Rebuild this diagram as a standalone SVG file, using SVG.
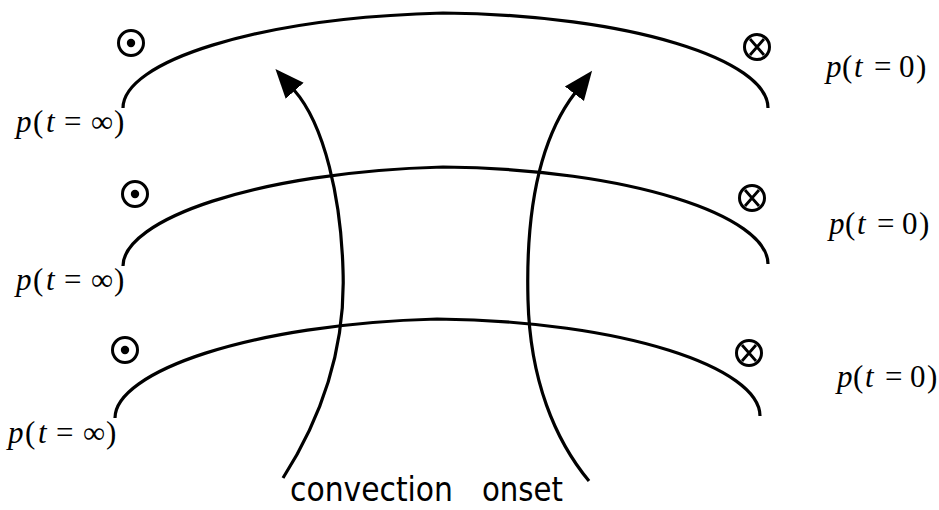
<svg xmlns="http://www.w3.org/2000/svg" width="939" height="510" viewBox="0 0 939 510">
<style>
.line{fill:none;stroke:#000;stroke-width:3.2;stroke-linecap:butt}
.arrow{fill:none;stroke:#000;stroke-width:3.2}
.ring{fill:none;stroke:#000;stroke-width:3}
.lab{font-family:"Liberation Serif","Times New Roman",serif;font-size:31px;fill:#000}
.it{font-style:italic}
.cap{font-family:"DejaVu Sans Condensed","DejaVu Sans",sans-serif;font-size:33px;fill:#000}
</style>
<defs>
<marker id="head" markerUnits="userSpaceOnUse" viewBox="0 0 30 26" markerWidth="30" markerHeight="26" refX="1" refY="13" orient="auto">
<path d="M0,1 L29,13 L0,25 Z" fill="#000"/>
</marker>
<g id="dotsym"><circle r="12.5" class="ring"/><circle r="4.2" fill="#000"/></g>
<g id="xsym"><circle r="12.5" class="ring"/><path d="M-7,-8 L7,8 M7,-8 L-7,8" stroke="#000" stroke-width="2.8"/></g>
</defs>

<g id="layer-top">
<path class="line" d="M123,108 C123,62 255,18 443,13 C631,15 768,60 768,108"/>
<use href="#dotsym" x="131" y="43"/>
<use href="#xsym" x="757" y="47"/>
<text class="lab" y="132"><tspan class="it" x="16">p</tspan><tspan x="33">(</tspan><tspan class="it" x="46">t</tspan><tspan x="64">=</tspan><tspan x="91">∞</tspan><tspan x="114">)</tspan></text>
<text class="lab" y="77"><tspan class="it" x="826">p</tspan><tspan x="842">(</tspan><tspan class="it" x="854">t</tspan><tspan x="874">=</tspan><tspan x="899">0</tspan><tspan x="916">)</tspan></text>
</g>

<g id="layer-middle">
<path class="line" d="M123,266 C123,220 255,172 443,167 C631,169 768,216 768,264"/>
<use href="#dotsym" x="135" y="194"/>
<use href="#xsym" x="752" y="198"/>
<text class="lab" y="290"><tspan class="it" x="16">p</tspan><tspan x="33">(</tspan><tspan class="it" x="46">t</tspan><tspan x="64">=</tspan><tspan x="91">∞</tspan><tspan x="114">)</tspan></text>
<text class="lab" y="234"><tspan class="it" x="829">p</tspan><tspan x="845">(</tspan><tspan class="it" x="857">t</tspan><tspan x="877">=</tspan><tspan x="902">0</tspan><tspan x="919">)</tspan></text>
</g>

<g id="layer-bottom">
<path class="line" d="M115,418 C115,372 249,324 437,319 C625,321 760,368 760,416"/>
<use href="#dotsym" x="125" y="350"/>
<use href="#xsym" x="749" y="353"/>
<text class="lab" y="443"><tspan class="it" x="8">p</tspan><tspan x="25">(</tspan><tspan class="it" x="38">t</tspan><tspan x="56">=</tspan><tspan x="83">∞</tspan><tspan x="106">)</tspan></text>
<text class="lab" y="387"><tspan class="it" x="837">p</tspan><tspan x="853">(</tspan><tspan class="it" x="865">t</tspan><tspan x="885">=</tspan><tspan x="910">0</tspan><tspan x="927">)</tspan></text>
</g>

<g id="connectors">
<path class="arrow" d="M283,478 C320,420 346,350 343,270 C341,200 325,125 294,90" marker-end="url(#head)"/>
<path class="arrow" d="M589,481 C555,440 530,380 528,300 C526,225 535,145 575,93" marker-end="url(#head)"/>
</g>

<g id="caption">
<text class="cap" x="290" y="501" textLength="163" lengthAdjust="spacingAndGlyphs">convection</text>
<text class="cap" x="482" y="501" textLength="81" lengthAdjust="spacingAndGlyphs">onset</text>
</g>
</svg>
